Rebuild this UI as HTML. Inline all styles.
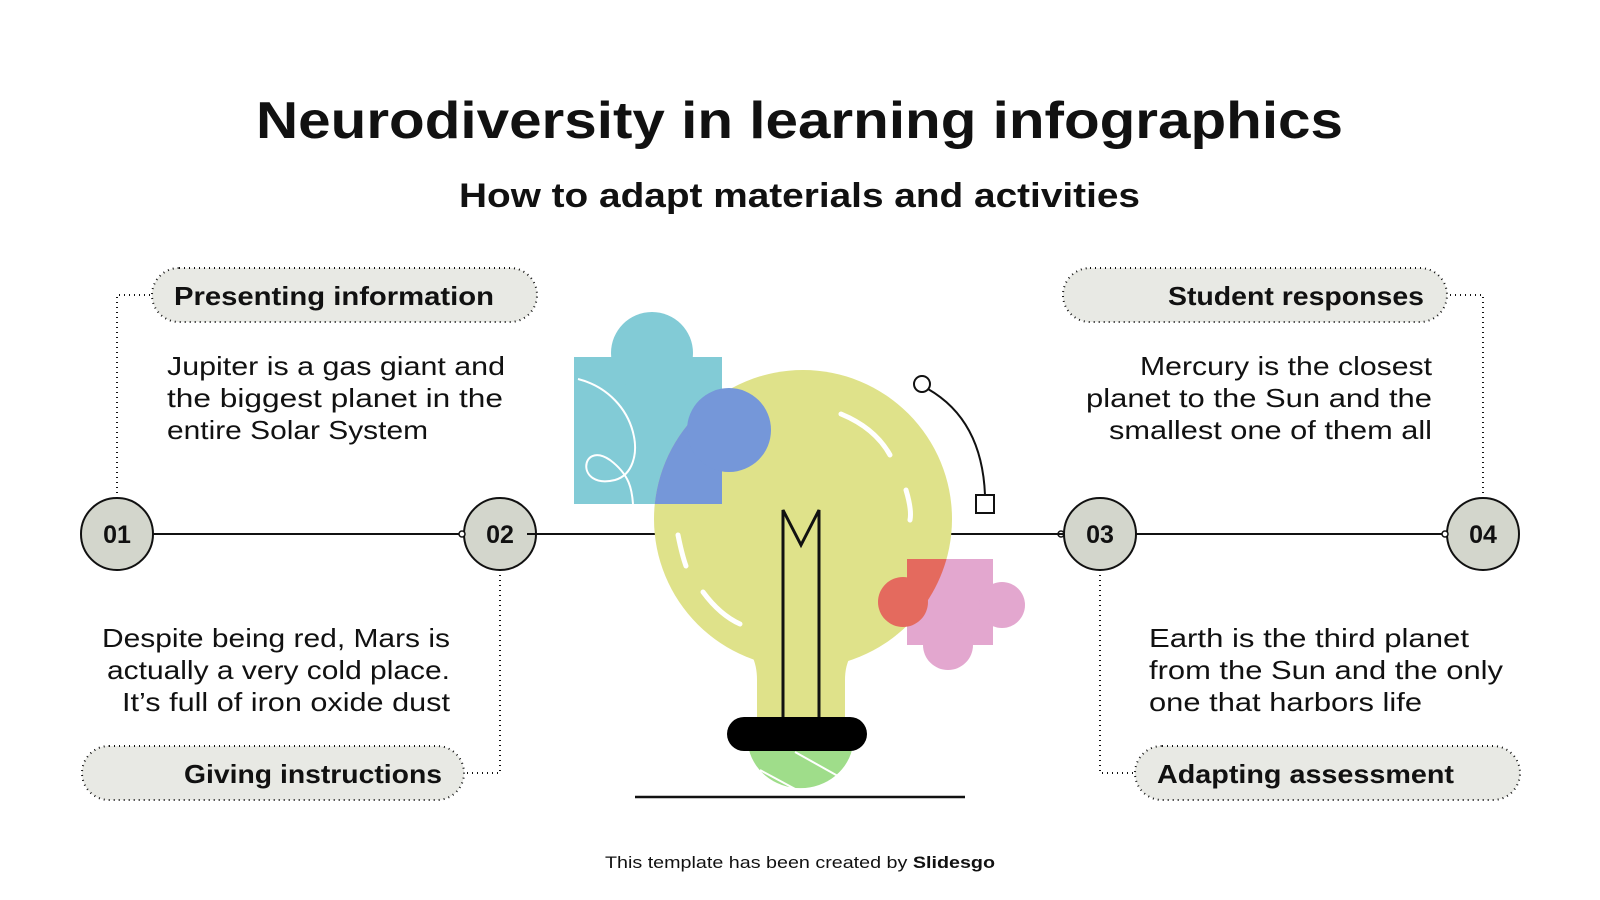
<!DOCTYPE html>
<html><head><meta charset="utf-8"><style>
html,body{margin:0;padding:0;background:#fff;}
svg{display:block;}
text{font-family:"Liberation Sans",sans-serif;fill:#111;}
</style></head><body>
<svg width="1600" height="900" viewBox="0 0 1600 900" xmlns="http://www.w3.org/2000/svg">
<defs>
<clipPath id="bulb"><circle cx="803" cy="519" r="149"/><rect x="757" y="600" width="88" height="130" rx="20"/></clipPath>
</defs>
<text x="256" y="138" font-size="52" font-weight="bold" textLength="1087" lengthAdjust="spacingAndGlyphs">Neurodiversity in learning infographics</text>
<text x="459" y="207" font-size="34" font-weight="bold" textLength="681" lengthAdjust="spacingAndGlyphs">How to adapt materials and activities</text>

<line x1="117" y1="534" x2="1483" y2="534" stroke="#111" stroke-width="2"/>
<g fill="none" stroke="#111" stroke-width="2" stroke-dasharray="1 4">
<path d="M117 498 V295 H152"/>
<path d="M500 570 V773 H464"/>
<path d="M1100 570 V773 H1135"/>
<path d="M1483 498 V295 H1447"/>
</g>
<g fill="#e8e9e4" stroke="#111" stroke-width="2" stroke-dasharray="1 4">
<rect x="152" y="268" width="385" height="54" rx="27"/>
<rect x="1063" y="268" width="384" height="54" rx="27"/>
<rect x="82" y="746" width="382" height="54" rx="27"/>
<rect x="1135" y="746" width="385" height="54" rx="27"/>
</g>
<g font-size="26" font-weight="bold" lengthAdjust="spacingAndGlyphs">
<text x="174" y="305" textLength="320" lengthAdjust="spacingAndGlyphs">Presenting information</text>
<text x="1168" y="305" textLength="256" lengthAdjust="spacingAndGlyphs">Student responses</text>
<text x="184" y="783" textLength="258" lengthAdjust="spacingAndGlyphs">Giving instructions</text>
<text x="1157" y="783" textLength="297" lengthAdjust="spacingAndGlyphs">Adapting assessment</text>
</g>
<g font-size="26">
<text x="167" y="375" textLength="338" lengthAdjust="spacingAndGlyphs">Jupiter is a gas giant and</text>
<text x="167" y="407" textLength="336" lengthAdjust="spacingAndGlyphs">the biggest planet in the</text>
<text x="167" y="439" textLength="261" lengthAdjust="spacingAndGlyphs">entire Solar System</text>
<text x="1140" y="375" textLength="292" lengthAdjust="spacingAndGlyphs">Mercury is the closest</text>
<text x="1086" y="407" textLength="346" lengthAdjust="spacingAndGlyphs">planet to the Sun and the</text>
<text x="1109" y="439" textLength="323" lengthAdjust="spacingAndGlyphs">smallest one of them all</text>
<text x="102" y="647" textLength="348" lengthAdjust="spacingAndGlyphs">Despite being red, Mars is</text>
<text x="107" y="679" textLength="343" lengthAdjust="spacingAndGlyphs">actually a very cold place.</text>
<text x="122" y="711" textLength="328" lengthAdjust="spacingAndGlyphs">It’s full of iron oxide dust</text>
<text x="1149" y="647" textLength="320" lengthAdjust="spacingAndGlyphs">Earth is the third planet</text>
<text x="1149" y="679" textLength="354" lengthAdjust="spacingAndGlyphs">from the Sun and the only</text>
<text x="1149" y="711" textLength="273" lengthAdjust="spacingAndGlyphs">one that harbors life</text>
</g>
<g fill="#d3d6cc" stroke="#111" stroke-width="2">
<circle cx="117" cy="534" r="36"/><circle cx="500" cy="534" r="36"/>
<circle cx="1100" cy="534" r="36"/><circle cx="1483" cy="534" r="36"/>
</g>
<g fill="#fff" stroke="#111" stroke-width="1.5">
<circle cx="462" cy="534" r="3"/><circle cx="1061" cy="534" r="3"/><circle cx="1445" cy="534" r="3"/>
</g>
<g font-size="25" font-weight="bold" text-anchor="middle">
<text x="117" y="543">01</text><text x="500" y="543">02</text>
<text x="1100" y="543">03</text><text x="1483" y="543">04</text>
</g>

<rect x="650" y="520" width="310" height="30" fill="#fff"/>
<line x1="527" y1="534" x2="660" y2="534" stroke="#111" stroke-width="2"/>
<line x1="945" y1="534" x2="1064" y2="534" stroke="#111" stroke-width="2"/>
<rect x="574" y="357" width="148" height="147" fill="#82cbd6"/>
<circle cx="652" cy="353" r="41" fill="#82cbd6"/>
<path d="M578 379 C640 395 650 470 615 480 C575 490 580 440 610 460 C630 475 632 490 633 504" fill="none" stroke="#fff" stroke-width="2"/>
<circle cx="803" cy="519" r="149" fill="#dfe28a"/>
<path d="M735 640 Q757 650 757 680 V725 H845 V680 Q845 650 870 640 Z" fill="#dfe28a"/>
<g clip-path="url(#bulb)"><rect x="574" y="357" width="148" height="147" fill="#7597d9"/></g>
<circle cx="729" cy="430" r="42" fill="#7597d9"/>
<path d="M722 400 L722 470" stroke="#7597d9" stroke-width="4"/>
<rect x="907" y="559" width="86" height="86" fill="#e3a7cf"/>
<circle cx="1002" cy="605" r="23" fill="#e3a7cf"/>
<circle cx="948" cy="645" r="25" fill="#e3a7cf"/>
<circle cx="903" cy="602" r="25" fill="#e46a5e"/>
<g clip-path="url(#bulb)"><rect x="907" y="559" width="86" height="86" fill="#e46a5e"/></g>
<g fill="none" stroke="#fff" stroke-width="5" stroke-linecap="round">
<path d="M841 414 Q875 428 890 455"/>
<path d="M906 490 Q912 510 910 520"/>
<path d="M678 535 Q682 555 686 566"/>
<path d="M703 592 Q720 615 740 624"/>
</g>
<path d="M783 717 V510 L801 545 L819 510 V717" fill="none" stroke="#111" stroke-width="3"/>
<path d="M748 745 A53 50 0 0 0 853 745 Z" fill="#9fdd8a"/>
<g stroke="#fff" stroke-width="2"><line x1="760" y1="770" x2="810" y2="797"/><line x1="795" y1="752" x2="845" y2="780"/></g>
<rect x="727" y="717" width="140" height="34" rx="17" fill="#000"/>
<line x1="635" y1="797" x2="965" y2="797" stroke="#111" stroke-width="2.5"/>
<path d="M928 389 Q982 420 985 495" fill="none" stroke="#111" stroke-width="2"/>
<circle cx="922" cy="384" r="8" fill="#fff" stroke="#111" stroke-width="2"/>
<rect x="976" y="495" width="18" height="18" fill="#fff" stroke="#111" stroke-width="2"/>

<text x="605" y="868" font-size="17" textLength="390" lengthAdjust="spacingAndGlyphs">This template has been created by <tspan font-weight="bold">Slidesgo</tspan></text>
</svg>
</body></html>
